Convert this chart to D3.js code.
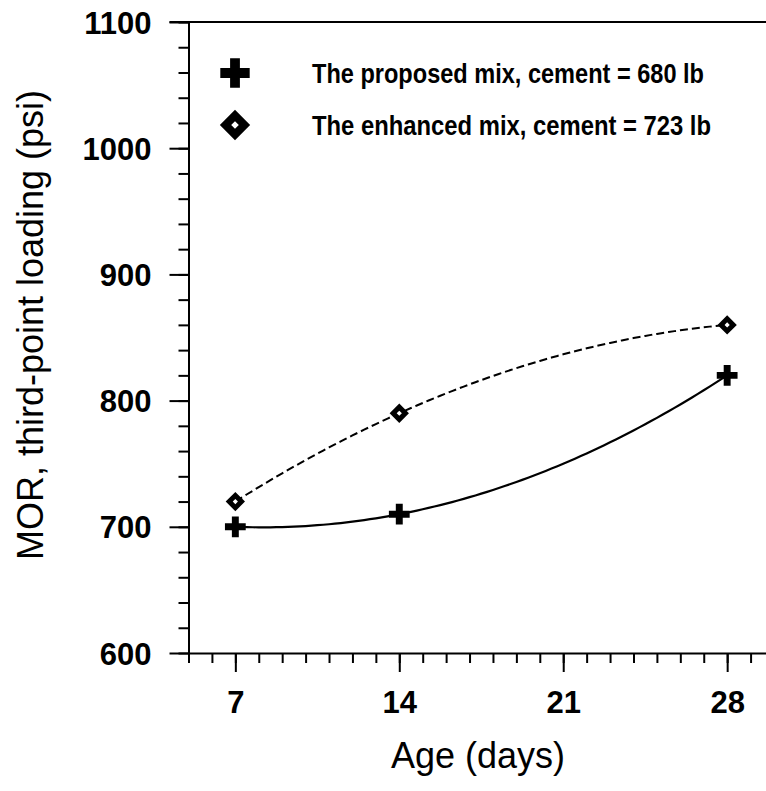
<!DOCTYPE html>
<html>
<head>
<meta charset="utf-8">
<script src="https://cdn.jsdelivr.net/npm/d3@7"></script>
<style>
  body { margin: 0; background: #fff; }
  svg { display: block; font-family: "Liberation Sans", Arial, sans-serif; }
</style>
</head>
<body>
<svg id="chart" width="766" height="791"></svg>
<script>
// chart data
const ages = [7, 14, 28];
const proposedMix = [700, 710, 820];
const enhancedMix = [720, 790, 860];
const seriesNames = ["The proposed mix, cement = 680 lb", "The enhanced mix, cement = 723 lb"];
const xMajorTicks = [7, 14, 21, 28];
const yMajorTicks = [600, 700, 800, 900, 1000, 1100];

const width = 766, height = 791;
const svg = d3.select("#chart");

const x = d3.scaleLinear().domain([5, 30]).range([188.5, 774]);
const y = d3.scaleLinear().domain([600, 1100]).range([653, 22]);

// minor ticks
svg.append("g")
  .attr("transform", `translate(${x(5)},0)`)
  .call(d3.axisLeft(y).tickValues(d3.range(600, 1101, 20)).tickSize(10).tickFormat(""))
  .call(g => g.select(".domain").remove());
svg.append("g")
  .attr("transform", `translate(0,${y(600)})`)
  .call(d3.axisBottom(x).tickValues(d3.range(5, 30, 1)).tickSize(10).tickFormat(""))
  .call(g => g.select(".domain").remove());

// major axes
const yAxis = svg.append("g")
  .attr("transform", `translate(${x(5)},0)`)
  .call(d3.axisLeft(y).tickValues(yMajorTicks).tickFormat(d3.format("d"))
    .tickSize(19).tickSizeOuter(0).tickPadding(18));
const xAxis = svg.append("g")
  .attr("transform", `translate(0,${y(600)})`)
  .call(d3.axisBottom(x).tickValues(xMajorTicks).tickFormat(d3.format("d"))
    .tickSize(19).tickSizeOuter(0).tickPadding(19));

[yAxis, xAxis].forEach(a => {
  a.selectAll("path, line").attr("stroke", "#000").attr("stroke-width", 2);
  a.selectAll("text").attr("font-size", 31).attr("font-weight", "bold").attr("fill", "#000")
    .attr("font-family", "'Liberation Sans', Arial, sans-serif");
});
yAxis.selectAll("text").attr("dy", "0.36em");
xAxis.selectAll("text").attr("dy", "0.72em");
svg.selectAll("g.tick line").attr("stroke", "#000").attr("stroke-width", 2);

// top frame line
svg.append("line")
  .attr("x1", x(5) - 19).attr("x2", x(30))
  .attr("y1", y(1100)).attr("y2", y(1100))
  .attr("stroke", "#000").attr("stroke-width", 2);

// quadratic fit through the three points (as in the original trend curves)
function quadFit(xs, ys) {
  return t => ys.reduce((s, yi, i) => {
    let term = yi;
    xs.forEach((xj, j) => { if (j !== i) term *= (t - xj) / (xs[i] - xj); });
    return s + term;
  }, 0);
}
const line = d3.line().x(d => x(d[0])).y(d => y(d[1]));
const samples = d3.range(ages[0], ages[ages.length - 1] + 0.001, 0.25);

const fProp = quadFit(ages, proposedMix);
const fEnh = quadFit(ages, enhancedMix);

svg.append("path")
  .attr("d", line(samples.map(t => [t, fProp(t)])))
  .attr("fill", "none").attr("stroke", "#000").attr("stroke-width", 2.2);
svg.append("path")
  .attr("d", line(samples.map(t => [t, fEnh(t)])))
  .attr("fill", "none").attr("stroke", "#000").attr("stroke-width", 2)
  .attr("stroke-dasharray", "8,4");

// markers
const cross = s => d3.symbol(d3.symbolCross, s)();
const square = s => d3.symbol(d3.symbolSquare, s)();

svg.append("g").selectAll("path")
  .data(ages.map((a, i) => [a, proposedMix[i]]))
  .join("path")
  .attr("d", cross(240))
  .attr("transform", d => `translate(${x(d[0])},${y(d[1])})`)
  .attr("fill", "#000");

svg.append("g").selectAll("path")
  .data(ages.map((a, i) => [a, enhancedMix[i]]))
  .join("path")
  .attr("d", square(75))
  .attr("transform", d => `translate(${x(d[0])},${y(d[1])}) rotate(45)`)
  .attr("fill", "#fff").attr("stroke", "#000").attr("stroke-width", 5);

// legend
const legend = svg.append("g");
legend.append("path").attr("d", cross(480))
  .attr("transform", "translate(235,73)").attr("fill", "#000");
legend.append("path").attr("d", square(180))
  .attr("transform", "translate(235,125) rotate(45)")
  .attr("fill", "#fff").attr("stroke", "#000").attr("stroke-width", 8);

const legendWidths = [392, 399];
legend.selectAll("text")
  .data(seriesNames)
  .join("text")
  .attr("x", 312)
  .attr("y", (d, i) => 83 + i * 52)
  .attr("font-size", 27)
  .attr("font-weight", "bold")
  .attr("font-family", "'Liberation Sans Narrow', 'Liberation Sans', Arial, sans-serif")
  .attr("textLength", (d, i) => legendWidths[i])
  .attr("lengthAdjust", "spacingAndGlyphs")
  .text(d => d);

// axis titles
svg.append("text")
  .attr("x", 478).attr("y", 768)
  .attr("text-anchor", "middle")
  .attr("font-size", 36)
  .text("Age (days)");

svg.append("text")
  .attr("transform", "translate(43,325) rotate(-90)")
  .attr("text-anchor", "middle")
  .attr("font-size", 36)
  .text("MOR, third-point loading (psi)");
</script>
</body>
</html>
